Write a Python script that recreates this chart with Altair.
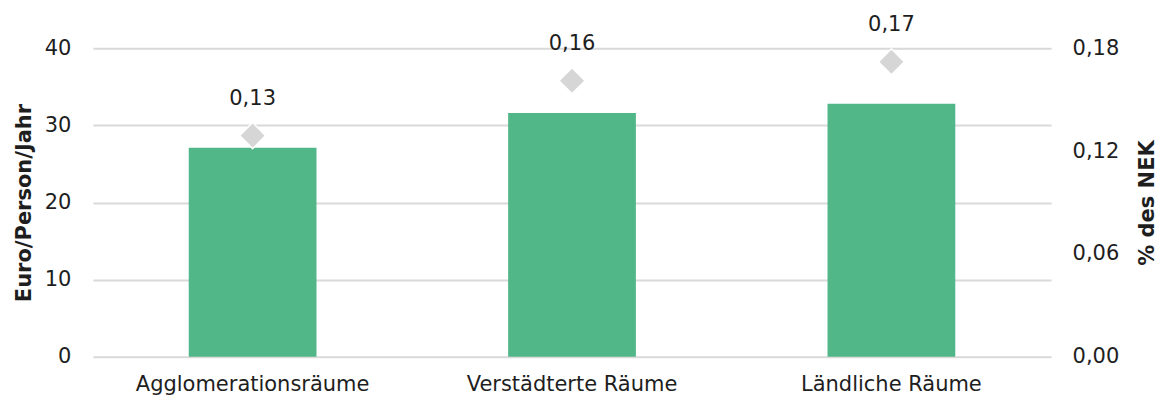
import altair as alt
import pandas as pd

categories = ["Agglomerationsräume", "Verstädterte Räume", "Ländliche Räume"]
euro_values = [27.1, 31.6, 32.8]
nek_values = [0.129, 0.161, 0.172]

df = pd.DataFrame({"cat": categories, "euro": euro_values, "nek": nek_values})

FONT = "DejaVu Sans"
TXT = "#1e1e1e"
GRID = "#d9d9d9"
FS = 21

x = alt.X("cat:N", sort=categories, title=None,
          scale=alt.Scale(paddingInner=0.6, paddingOuter=0.3),
          axis=alt.Axis(labelAngle=0, labelFontSize=FS, labelColor=TXT, labelFont=FONT,
                        labelPadding=17, labelLimit=0, ticks=False, domain=False))

bars = alt.Chart(df).mark_bar(color="#52b788").encode(
    x=x,
    y=alt.Y("euro:Q", title="Euro/Person/Jahr",
            scale=alt.Scale(domain=[0, 40], nice=False),
            axis=alt.Axis(values=[0, 10, 20, 30, 40], orient="left", grid=True,
                          gridColor=GRID, gridWidth=2, domain=False, ticks=False,
                          labelFontSize=FS, labelColor=TXT, labelFont=FONT, labelPadding=22,
                          titleFontSize=FS, titleFont=FONT, titleColor=TXT,
                          titleFontWeight="bold", titlePadding=10)),
)

yr = alt.Y("nek:Q", title="% des NEK",
           scale=alt.Scale(domain=[0, 0.18], nice=False),
           axis=alt.Axis(values=[0, 0.06, 0.12, 0.18], orient="right", grid=False,
                         domain=False, ticks=False,
                         labelExpr="replace(format(datum.value, '.2f'), '.', ',')",
                         labelFontSize=FS, labelColor=TXT, labelFont=FONT, labelPadding=21,
                         titleFontSize=FS, titleFont=FONT, titleColor=TXT,
                         titleFontWeight="bold", titlePadding=18, titleAngle=270,
                         titleBaseline="top"))

base = alt.Chart(df).encode(x=x, y=yr)
pts = base.mark_point(shape="diamond", filled=True, size=680, color="#d6d6d6",
                      stroke="white", strokeWidth=1.5, opacity=1)
txt = base.transform_calculate(
    lab="replace(format(datum.nek, '.2f'), '.', ',')"
).mark_text(dy=-37, fontSize=FS, font=FONT, color=TXT).encode(text="lab:N")

chart = alt.layer(bars, alt.layer(pts, txt)).resolve_scale(y="independent").properties(
    width=959, height=309
).configure_view(stroke=None).configure_axisX(grid=False)

chart.save("out.html", embed_options={"renderer": "svg", "actions": False})
